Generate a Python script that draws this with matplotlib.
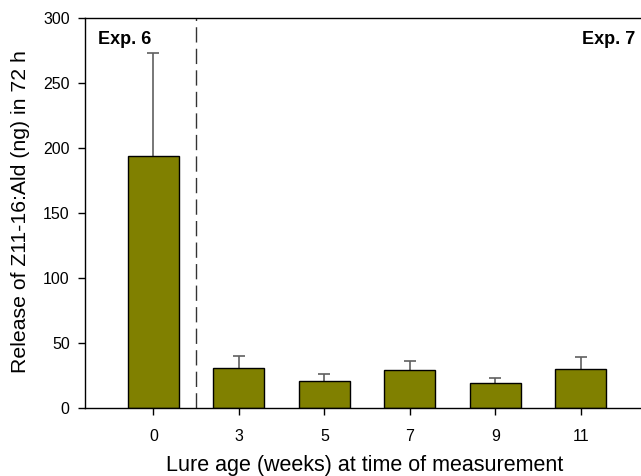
import matplotlib

matplotlib.use("Agg")
import matplotlib.pyplot as plt
import numpy as np

plt.rcParams["font.family"] = ["Liberation Sans", "DejaVu Sans"]

lure_age = ["0", "3", "5", "7", "9", "11"]
release_mean = [194, 31, 21, 29, 19, 30]
release_se = [79, 9, 5, 7.5, 4, 9]

OLIVE = "#808000"

fig = plt.figure(figsize=(6.41, 4.76), dpi=100)
ax = fig.add_axes([85 / 641, 68 / 476, 1 - 85 / 641 + 0.01, 390 / 476])

x = np.arange(len(lure_age))
ax.bar(x, release_mean, width=0.6, color=OLIVE, edgecolor="black", linewidth=1.0, zorder=2)
_, caps, _ = ax.errorbar(
    x,
    release_mean,
    yerr=[np.zeros(len(release_se)), release_se],
    fmt="none",
    ecolor="#606060",
    elinewidth=1.2,
    capsize=4.6,
    capthick=1.2,
    zorder=1,
)
# upper error only: hide the caps sitting on the bar tops
caps[0].set_visible(False)

# separator between the two experiments
ax.axvline(0.5, color="#333333", linewidth=1.0, linestyle=(0, (11, 4.5)))

ax.set_xlim(-0.8, 5.78)
ax.set_ylim(0, 300)
ax.set_yticks(np.arange(0, 301, 50))
ax.set_xticks(x)
ax.set_xticklabels(lure_age)
ax.tick_params(axis="both", direction="out", length=5, width=1, labelsize=11.5, colors="black")
ax.tick_params(axis="y", pad=6)
ax.tick_params(axis="x", pad=10)

ax.spines["right"].set_visible(False)
for side in ("left", "bottom", "top"):
    ax.spines[side].set_linewidth(1.0)
    ax.spines[side].set_color("black")

ax.set_ylabel("Release of Z11-16:Ald (ng) in 72 h", fontsize=15.3)
ax.yaxis.set_label_coords(21 / 641, 1 - 211.5 / 476, transform=fig.transFigure)
ax.set_xlabel("Lure age (weeks) at time of measurement", fontsize=15.5)
ax.xaxis.set_label_coords(0.5 * (165 + 565) / 641, 1 - 466 / 476, transform=fig.transFigure)
ax.xaxis.label.set_va("center")
ax.yaxis.label.set_va("center")

ax.text(98 / 641, 1 - 40 / 476, "Exp. 6", transform=fig.transFigure, fontsize=13,
        fontweight="bold", ha="left", va="center")
ax.text(635 / 641, 1 - 40 / 476, "Exp. 7", transform=fig.transFigure, fontsize=13,
        fontweight="bold", ha="right", va="center")

fig.savefig("out.png", dpi=100)
plt.close(fig)
